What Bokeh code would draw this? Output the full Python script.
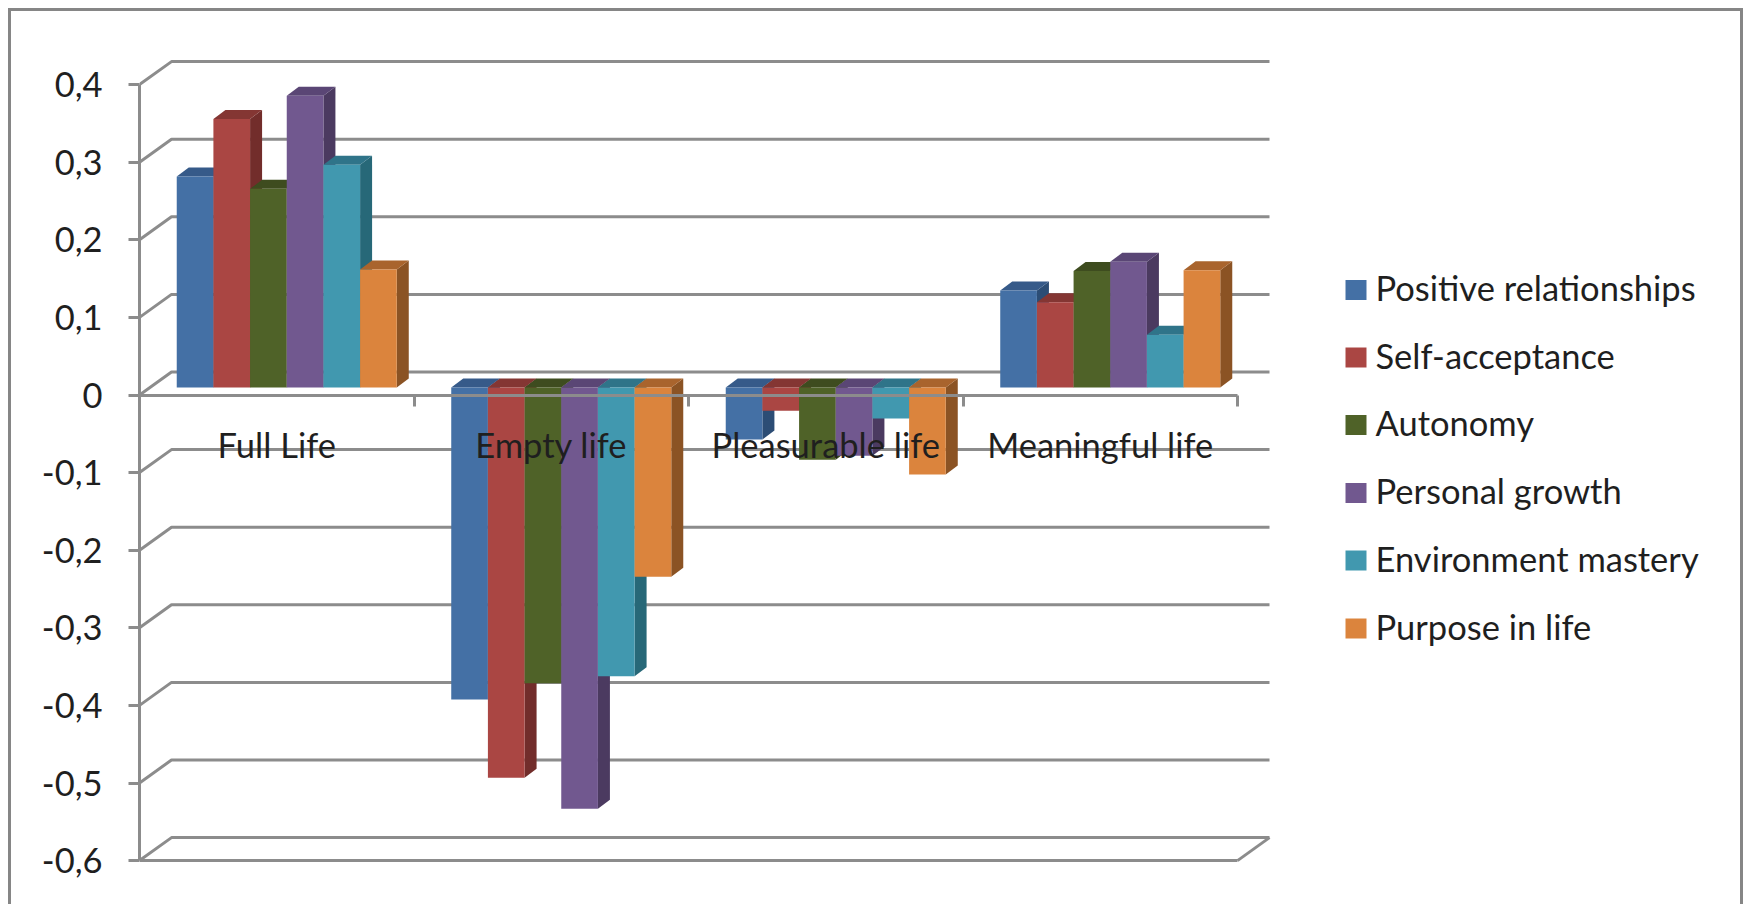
from bokeh.core.properties import value
from bokeh.embed import file_html
from bokeh.models import FixedTicker, InlineStyleSheet, LinearAxis, Range1d
from bokeh.plotting import figure
from bokeh.resources import INLINE

categories = ["Full Life", "Empty life", "Pleasurable life", "Meaningful life"]
series_names = [
    "Positive relationships",
    "Self-acceptance",
    "Autonomy",
    "Personal growth",
    "Environment mastery",
    "Purpose in life",
]
positive_relationships = [0.272, -0.402, -0.067, 0.125]
self_acceptance = [0.346, -0.503, -0.030, 0.110]
autonomy = [0.256, -0.381, -0.093, 0.150]
personal_growth = [0.376, -0.543, -0.088, 0.162]
environment_mastery = [0.287, -0.372, -0.040, 0.068]
purpose_in_life = [0.152, -0.244, -0.112, 0.151]
all_series = [
    positive_relationships,
    self_acceptance,
    autonomy,
    personal_growth,
    environment_mastery,
    purpose_in_life,
]
y_ticks = [-0.6, -0.5, -0.4, -0.3, -0.2, -0.1, 0, 0.1, 0.2, 0.3, 0.4]
y_labels = {t: f"{t:g}".replace(".", ",") for t in y_ticks}

front_colors = ["#4470A5", "#AA4643", "#4F6228", "#71588F", "#4198AF", "#DB843D"]
side_colors = ["#2C4D75", "#722D2B", "#37451C", "#4B3A60", "#276878", "#8B5324"]
top_colors = ["#365A89", "#843633", "#3E4C1F", "#5A4675", "#2F7489", "#A9642D"]
GREY = "#8C8C8C"
INK = "#1F1F1F"
FONT = "Lato"
FONT_SIZE = "34.5px"
LINE_W = 3

# Page geometry: pixels per category, pixels per unit of value.
WIDTH, HEIGHT = 1746, 904
LEFT = 139
BOTTOM_GAP = 24
ZERO_PX = 394.5
PER_CAT = 274.5
PER_VAL = 776.0


def dx(px):
    return px / PER_CAT


def dy(px):
    return px / PER_VAL


def to_x(px):
    return (px - LEFT) / PER_CAT


def to_y(px):
    return (ZERO_PX - px) / PER_VAL


# Outer chart border: top and sides only, it runs off the bottom of the page.
frame_border = InlineStyleSheet(
    css=(
        ":host::after { content: ''; position: absolute; left: 8px; top: 8px; "
        "right: 3px; bottom: 0; pointer-events: none; box-sizing: border-box; "
        "border: 3px solid #868686; border-bottom: none; }"
    )
)

p = figure(
    width=WIDTH,
    height=HEIGHT,
    output_backend="svg",
    toolbar_location=None,
    x_range=Range1d(to_x(LEFT), to_x(WIDTH)),
    y_range=Range1d(to_y(HEIGHT - BOTTOM_GAP), to_y(0)),
    min_border_left=LEFT,
    min_border_right=0,
    min_border_top=0,
    min_border_bottom=BOTTOM_GAP,
    outline_line_color=None,
    background_fill_color="white",
    border_fill_color="white",
    x_axis_type=None,
    y_axis_type="linear",
    stylesheets=[frame_border],
)
p.grid.visible = False

# Walls: the diagonal on the side wall and the run along the back for each tick.
wall_dx, wall_dy = dx(32), dy(23)
cat_count = len(categories)
xs, ys = [], []
for t in y_ticks:
    xs.append([0, wall_dx, cat_count + wall_dx])
    ys.append([t, t + wall_dy, t + wall_dy])
# Right-hand edge of the floor.
xs.append([cat_count, cat_count + wall_dx])
ys.append([y_ticks[0], y_ticks[0] + wall_dy])
p.multi_line(xs, ys, line_color=GREY, line_width=LINE_W)
# Front edge of the floor.
p.line([0, cat_count], [y_ticks[0], y_ticks[0]], line_color=GREY, line_width=LINE_W)

# Bars sit a little into the depth of the chart; each has a top and a right side.
bar_dx, bar_dy = dx(10), dy(7.5)
side_dx, side_dy = dx(12), dy(9)
bar_w = dx(36.67)
group_gap = (1 - bar_w * len(all_series)) / 2
for s, vals in enumerate(all_series):
    side_x, side_y, top_x, top_y = [], [], [], []
    left, right, hi, lo = [], [], [], []
    for c, v in enumerate(vals):
        x0 = c + group_gap + bar_dx + s * bar_w
        x1 = x0 + bar_w
        upper = max(v, 0) + bar_dy
        lower = min(v, 0) + bar_dy
        left.append(x0)
        right.append(x1)
        hi.append(upper)
        lo.append(lower)
        side_x.append([x1, x1 + side_dx, x1 + side_dx, x1])
        side_y.append([upper, upper + side_dy, lower + side_dy, lower])
        top_x.append([x0, x0 + side_dx, x1 + side_dx, x1])
        top_y.append([upper, upper + side_dy, upper + side_dy, upper])
    p.patches(side_x, side_y, fill_color=side_colors[s], line_color=None)
    p.patches(top_x, top_y, fill_color=top_colors[s], line_color=None)
    p.quad(left=left, right=right, top=hi, bottom=lo, fill_color=front_colors[s], line_color=None)

# Value axis at the left edge of the plot area.
yaxis = p.yaxis[0]
yaxis.ticker = FixedTicker(ticks=y_ticks)
yaxis.major_label_overrides = y_labels
yaxis.bounds = (y_ticks[0], y_ticks[-1])
yaxis.axis_line_color = GREY
yaxis.axis_line_width = LINE_W
yaxis.major_tick_line_color = GREY
yaxis.major_tick_line_width = LINE_W
yaxis.major_tick_out = 11
yaxis.major_tick_in = 0
yaxis.minor_tick_line_color = None
yaxis.major_label_standoff = 26
yaxis.major_label_text_font = FONT
yaxis.major_label_text_font_size = FONT_SIZE
yaxis.major_label_text_color = INK

# Category axis crossing at zero; it runs over the bars.
boundaries = list(range(cat_count + 1))
xaxis = LinearAxis(
    ticker=FixedTicker(ticks=boundaries),
    fixed_location=0,
    bounds=(0, cat_count),
    axis_line_color=GREY,
    axis_line_width=LINE_W,
    major_tick_line_color=GREY,
    major_tick_line_width=LINE_W,
    major_tick_out=11,
    major_tick_in=0,
    minor_tick_line_color=None,
    major_label_overrides={b: "" for b in boundaries},
    major_label_standoff=0,
)
p.add_layout(xaxis, "below")

# Category names hang below the zero line.
p.text(
    x=[c + 0.5 for c in range(cat_count)],
    y=[to_y(444)] * cat_count,
    text=categories,
    text_font=value(FONT),
    text_font_size=FONT_SIZE,
    text_color=INK,
    text_align="center",
    text_baseline="middle",
    level="overlay",
)

# Legend entries to the right of the plot.
legend_y = [289.5, 357, 424.5, 492.5, 560, 628]
for name, color, py in zip(series_names, front_colors, legend_y):
    p.quad(
        left=[to_x(1345)],
        right=[to_x(1366)],
        top=[to_y(py - 10)],
        bottom=[to_y(py + 10)],
        fill_color=color,
        line_color=None,
    )
    p.text(
        x=[to_x(1375)],
        y=[to_y(py - 2.5)],
        text=[name],
        text_font=value(FONT),
        text_font_size=FONT_SIZE,
        text_color=INK,
        text_align="left",
        text_baseline="middle",
    )

open("out.html", "w").write(file_html(p, INLINE))
